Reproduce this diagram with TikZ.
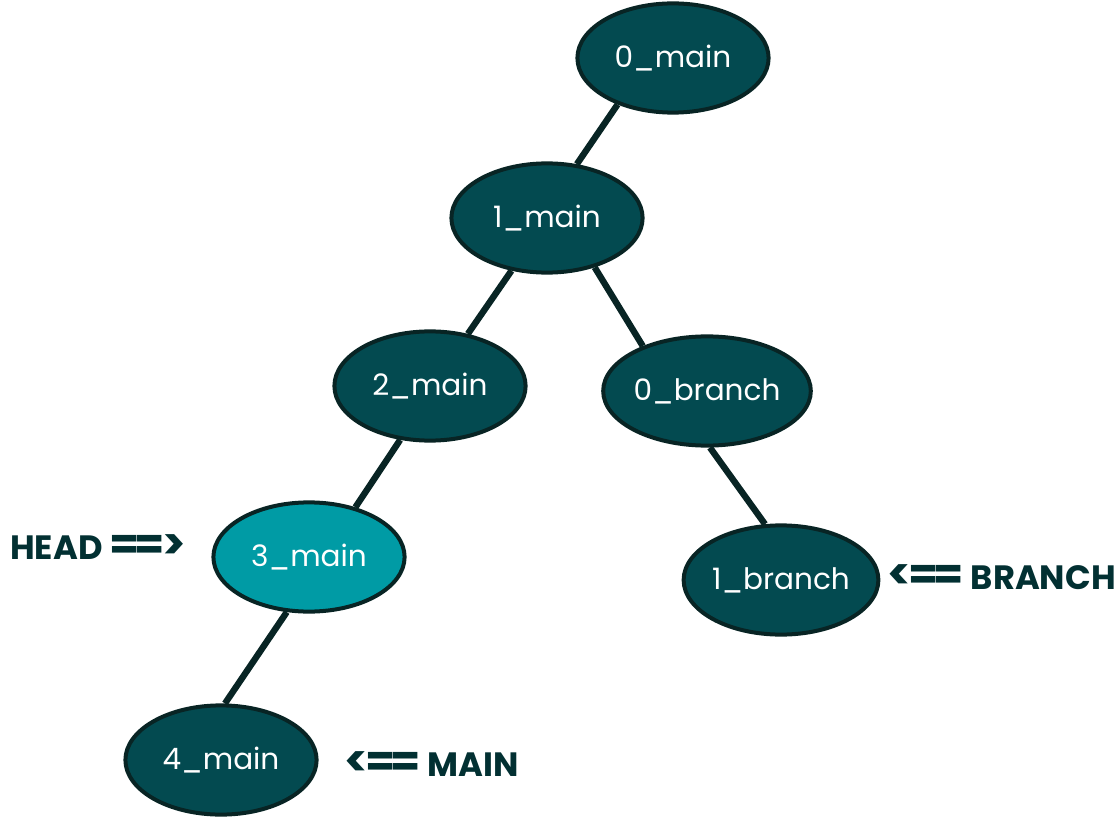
\documentclass[tikz,border=0pt]{standalone}
\usepackage{fontspec}
\setmainfont{Poppins}
\usetikzlibrary{shapes.geometric}
\definecolor{commitfill}{RGB}{3,74,80}
\definecolor{headfill}{RGB}{0,155,165}
\definecolor{commitline}{RGB}{8,36,36}
\definecolor{reftext}{RGB}{2,48,50}
% arrows of the ref labels, set a bit larger so that the bars join
\newcommand{\refsign}[1]{{\fontsize{31}{31}\selectfont #1}}
\begin{document}
\begin{tikzpicture}[commit/.style={draw=commitline,fill=commitfill,ellipse,line width=0.1cm,minimum width=4.78cm,minimum height=2.73cm,inner sep=0pt,text=white,font=\fontsize{21}{25}\selectfont},parent/.style={draw=commitline,line width=0.16cm},ref/.style={text=reftext,font=\fontsize{24}{28}\selectfont\bfseries,inner sep=0pt}]
\useasboundingbox (0,0) rectangle (27.925,-20.475);
\node[commit] (m0) at (16.825,-1.45) {0\_main};
\node[commit] (m1) at (13.675,-5.45) {1\_main};
\node[commit] (m2) at (10.75,-9.65) {2\_main};
\node[commit] (b0) at (17.675,-9.775) {0\_branch};
\node[commit,fill=headfill] (m3) at (7.725,-13.925) {3\_main};
\node[commit] (b1) at (19.525,-14.5) {1\_branch};
\node[commit] (m4) at (5.525,-19.0) {4\_main};
\node[ref,anchor=west] (head) at (0.25,-13.675) {HEAD\kern5pt\refsign{=\kern-3.9pt=\kern-2pt>}};
\node[ref,anchor=east] (branch) at (27.9,-14.425) {\refsign{<\kern-2pt=\kern-3.9pt=}\kern5pt BRANCH};
\node[ref,anchor=west] (main) at (8.6,-19.1) {\refsign{<\kern-2pt=\kern-3.9pt=}\kern5pt MAIN};
\draw[parent] (m0.220) -- (m1.61);
\draw[parent] (m1.236) -- (m2.54);
\draw[parent] (m1.314) -- (b0.145);
\draw[parent] (m2.241) -- (m3.47);
\draw[parent] (b0.273) -- (b1.106);
\draw[parent] (m3.248) -- (m4.86);
\end{tikzpicture}
\end{document}
